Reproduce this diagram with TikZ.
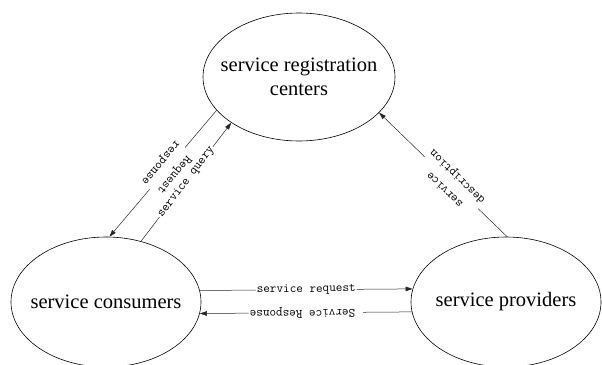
\documentclass[tikz,border=0pt]{standalone}
\usepackage{fontspec}
\setmainfont{Liberation Serif}
\usetikzlibrary{arrows.meta,shapes.geometric}
\begin{document}
\begin{tikzpicture}[x=1pt,y=-1pt,
  state/.style={draw, ellipse, inner sep=0pt, line width=0.6pt},
  title/.style={font=\fontsize{20.5}{23.5}\selectfont, align=center, inner sep=0pt},
  flow/.style={line width=0.5pt, draw=black!85, -{Triangle[length=7pt,width=4.5pt]}},
  tag/.style={font=\ttfamily\fontsize{12.8}{18}\selectfont, fill=white, inner sep=1pt,
    align=center, sloped, allow upside down}
]
\useasboundingbox (0,0) rectangle (602,364);
\clip (0,0) rectangle (602,364);

% the three parties
\node[state, minimum width=192pt, minimum height=128pt] (reg)  at (299,77)  {};
\node[state, minimum width=190pt, minimum height=130pt] (cons) at (106,302) {};
\node[state, minimum width=190pt, minimum height=130pt] (prov) at (506,302) {};

\node[title] (regtxt)  at (reg.center)  {service registration\\centers};
\node[title] (constxt) at (cons.center) {service consumers};
\node[title] (provtxt) at (prov.center) {service providers};

% message flows
\draw[flow] (reg.202.9) -- node[tag, pos=.46] (lblresp) {Request\\response} (cons.87.4);
\draw[flow] (cons.60.9) -- node[tag, pos=.5] (lblquery) {service query} (reg.214.6);
\draw[flow] (prov.89) -- node[tag, pos=.435] (lbldesc) {service\\description} (reg.336.6);
\draw[flow] (cons.7.6) -- node[tag] (lblreq) {service request} (prov.172.4);
\draw[flow] (prov.186.5) -- node[tag] (lblres) {\ Service Response} (cons.353.5);
\end{tikzpicture}
\end{document}
